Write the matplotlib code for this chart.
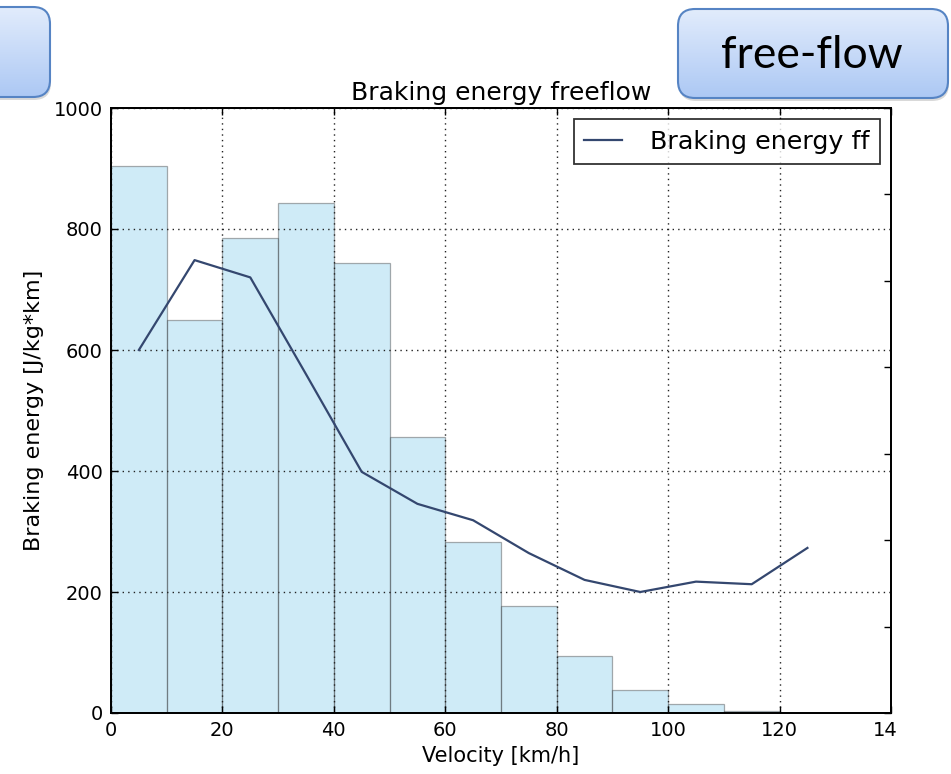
import matplotlib
matplotlib.use("Agg")
import matplotlib.pyplot as plt
import numpy as np
from matplotlib.patches import FancyBboxPatch, Rectangle

# ---------------- data ----------------
bin_edges = [0, 10, 20, 30, 40, 50, 60, 70, 80, 90, 100, 110, 120, 130, 140]
bar_heights = [904, 650, 785, 843, 744, 456, 283, 177, 94, 38, 15, 3, 0, 0]
line_x = [5, 15, 25, 35, 45, 55, 65, 75, 85, 95, 105, 115, 125]
# line values in the (unlabelled) right-axis units, 0..700
line_y = [420, 524, 504, 392, 279, 242, 223, 185, 154, 140, 152, 149, 191]
x_ticks = [0, 20, 40, 60, 80, 100, 120, 140]
y_ticks = [0, 200, 400, 600, 800, 1000]
title = "Braking energy freeflow"
xlabel = "Velocity [km/h]"
ylabel = "Braking energy [J/kg*km]"
legend_label = "Braking energy ff"
box_label = "free-flow"

W, H = 951, 774
fig = plt.figure(figsize=(W / 100, H / 100), dpi=100)
plt.rcParams['font.family'] = ['DejaVu Sans']

def px(x0, y0, x1, y1):
    return [x0 / W, 1 - y1 / H, (x1 - x0) / W, (y1 - y0) / H]

ax = fig.add_axes(px(111, 108, 891, 713))
ax.bar(bin_edges[:-1], bar_heights, width=np.diff(bin_edges), align='edge',
       color='skyblue', alpha=0.4, edgecolor='#333333', linewidth=0.9, zorder=1)
ax.set_xlim(0, 140)
ax.set_ylim(0, 1000)
ax.set_xticks(x_ticks)
ax.set_yticks(y_ticks)
ax.grid(True, color='#222222', linestyle=(0, (1, 3)), linewidth=1.0, zorder=2)
ax.set_axisbelow(False)
ax.tick_params(axis='both', direction='in', length=5, width=1, labelsize=14,
               top=True, bottom=True, left=True, right=False, pad=6)
ax.set_title(title, fontsize=18, pad=6)
ax.set_xlabel(xlabel, fontsize=15, labelpad=4)
ax.set_ylabel(ylabel, fontsize=16, labelpad=7)
for s in ax.spines.values():
    s.set_linewidth(1.3)

ax2 = ax.twinx()
ln, = ax2.plot(line_x, line_y, color='#34476f', linewidth=1.6, label=legend_label)
ax2.set_ylim(0, 700)
ax2.set_yticks(np.arange(0, 701, 100))
ax2.tick_params(axis='y', direction='in', length=5, width=1, labelright=False)
for s in ax2.spines.values():
    s.set_linewidth(1.3)
leg = ax2.legend(loc='upper right', fontsize=18.3, frameon=True, fancybox=False,
                 handlelength=1.5, handletextpad=1.1, borderpad=0.4,
                 borderaxespad=0.45)
leg.get_frame().set_edgecolor('k')
leg.get_frame().set_linewidth(1.3)

# ---------------- slide overlay ----------------
ov = fig.add_axes([0, 0, 1, 1])
ov.set_xlim(0, W)
ov.set_ylim(H, 0)
ov.axis('off')
# crop of the original picture on the right
ov.add_patch(Rectangle((897, 100), W - 897, H - 100, facecolor='white',
                       edgecolor='none', zorder=1))

grad = np.linspace(0, 1, 256).reshape(-1, 1)
top_c = np.array([226, 236, 252]) / 255
bot_c = np.array([172, 200, 244]) / 255
img = top_c[None, None, :] * (1 - grad[:, :, None]) + bot_c[None, None, :] * grad[:, :, None]

def slide_box(x0, y0, x1, y1, r=17):
    sh = FancyBboxPatch((x0 + 1, y0 + 3), x1 - x0, y1 - y0,
                        boxstyle=f"round,pad=0,rounding_size={r}",
                        facecolor=(0, 0, 0, 0.15), edgecolor='none', zorder=2)
    ov.add_patch(sh)
    p = FancyBboxPatch((x0, y0), x1 - x0, y1 - y0,
                       boxstyle=f"round,pad=0,rounding_size={r}",
                       facecolor='none', edgecolor='#5684c4', linewidth=1.5, zorder=4)
    ov.add_patch(p)
    im = ov.imshow(img, extent=(x0, x1, y1, y0), aspect='auto', zorder=3,
                   interpolation='bilinear')
    im.set_clip_path(p)

slide_box(-30, 7, 50, 97)
slide_box(678, 9, 948, 98)
ov.text(812, 56, box_label, fontsize=32, family=['Lato', 'DejaVu Sans'],
        ha='center', va='center', color='black', zorder=5)
ov.set_xlim(0, W)
ov.set_ylim(H, 0)

fig.savefig("out.png", dpi=100)
